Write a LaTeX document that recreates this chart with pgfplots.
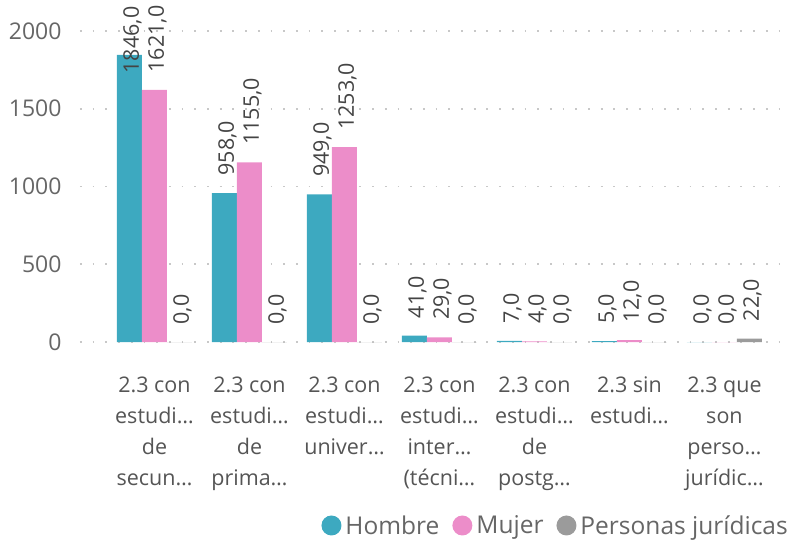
\documentclass[border=0pt]{standalone}
\usepackage{pgfplots}
\pgfplotsset{compat=1.18}
\usepackage{fontspec}
\setmainfont{Open Sans}
\definecolor{hombre}{HTML}{3DA9C0}
\definecolor{mujer}{HTML}{EC8DC9}
\definecolor{pj}{HTML}{9B9B9B}
\definecolor{tickc}{HTML}{666666}
\definecolor{valc}{HTML}{444444}
\definecolor{catc}{HTML}{555555}
\definecolor{gridc}{HTML}{C8C8C8}
\begin{document}
\begin{tikzpicture}
\path[use as bounding box] (-80pt,-202pt) rectangle (711pt,342pt);
\begin{axis}[
  at={(0pt,0pt)}, anchor=south west,
  scale only axis, width=710pt, height=311pt,
  xmin=-0.784, xmax=6.69, ymin=0, ymax=2000,
  clip=false,
  axis line style={draw=none},
  ytick={0,500,1000,1500,2000},
  xtick={0,1,2,3,4,5,6},
  major tick length=0pt,
  ymajorgrids,
  grid style={gridc, line width=1.8pt, dash pattern=on 1.8pt off 10.9pt},
  /pgf/number format/.cd, assume math mode=true, 1000 sep={}, /pgfplots/.cd,
  yticklabel style={font=\fontsize{23}{26}\selectfont, text=tickc, xshift=-15pt},
  xticklabel style={font=\fontsize{21.5}{31}\selectfont, text=catc, align=center, anchor=north, yshift=-31pt},
  xticklabels={{2.3 con\\estudi…\\de\\secun…},{2.3 con\\estudi…\\de\\prima…},{2.3 con\\estudi…\\univer…},{2.3 con\\estudi…\\inter…\\(técni…},{2.3 con\\estudi…\\de\\postg…},{2.3 sin\\estudi…},{2.3 que\\son\\perso…\\jurídic…}},
  ybar=0pt, bar width=25pt,
  nodes near coords={\pgfmathprintnumber[fixed,fixed zerofill,precision=1,use comma,1000 sep={},assume math mode=true]{\pgfplotspointmeta}},
  every node near coord/.append style={font=\fontsize{21.5}{25}\selectfont, text=valc, rotate=90, anchor=west, xshift=14pt, yshift=-3pt},
  legend style={at={(1,-0.59)}, anchor=east, draw=none, fill=none, legend columns=3, font=\fontsize{24.5}{28}\selectfont, text=tickc, inner sep=0pt,
    /tikz/every even column/.append style={column sep=11pt},
    /tikz/every odd column/.append style={column sep=2pt}},
  legend image code/.code={\fill[#1] (0pt,0pt) circle (10pt);},
]
\addplot[fill=hombre, draw=none, coordinate style/.condition={y>1800}{yshift=-36pt}] coordinates {(0,1846) (1,958) (2,949) (3,41) (4,7) (5,5) (6,0)};
\addplot[fill=mujer, draw=none] coordinates {(0,1621) (1,1155) (2,1253) (3,29) (4,4) (5,12) (6,0)};
\addplot[fill=pj, draw=none] coordinates {(0,0) (1,0) (2,0) (3,0) (4,0) (5,0) (6,22)};
\legend{Hombre,Mujer,Personas jurídicas}
\end{axis}
\end{tikzpicture}
\end{document}
